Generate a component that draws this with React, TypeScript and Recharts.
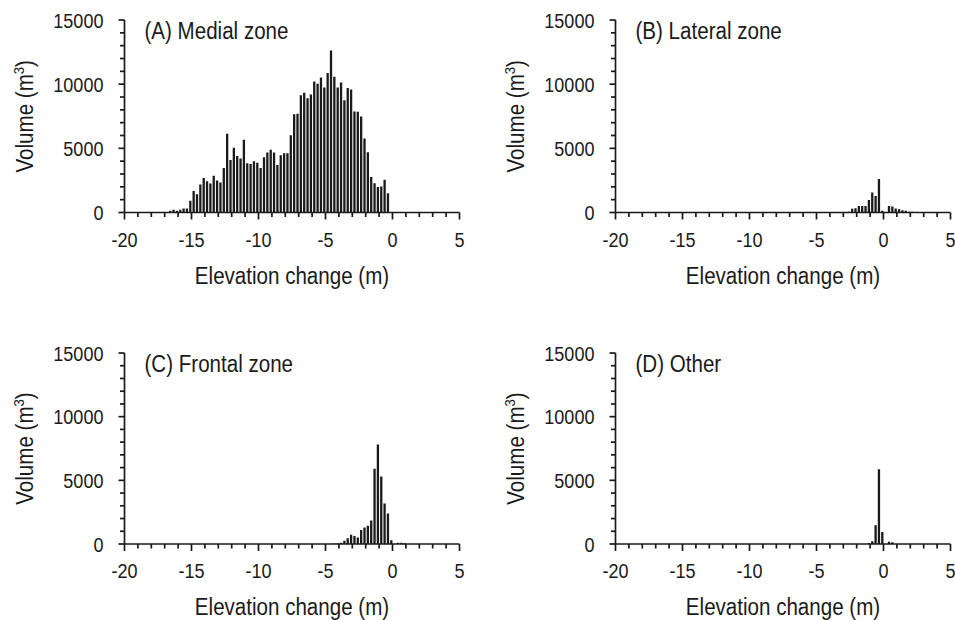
import React from 'react';
import { BarChart, Bar, XAxis, YAxis, Label } from 'recharts';

// ---- data (bin width 0.25 m, values at bin centres) ----
const BIN = 0.25;
const xTicks = [-20, -19, -18, -17, -16, -15, -14, -13, -12, -11, -10, -9, -8, -7, -6, -5, -4, -3, -2, -1, 0, 1, 2, 3, 4, 5];
const yTicks = [0, 1000, 2000, 3000, 4000, 5000, 6000, 7000, 8000, 9000, 10000, 11000, 12000, 13000, 14000, 15000];

const medialStart = -16.625;
const medialVolume = [
  130, 210, 130, 210, 315, 315, 920, 1680, 1420, 2180, 2680, 2440, 2260, 2860, 2490, 2340,
  3460, 6140, 4090, 5040, 4410, 4200, 5670, 3830, 3780, 3990, 3880, 3460, 4300, 4670, 4880, 4670,
  3700, 4460, 4620, 4620, 6010, 7660, 7690, 9130, 9340, 8900, 9190, 10210, 10030, 10520, 9740,
  10870, 12620, 10580, 9740, 10130, 8740, 9710, 9580, 7870, 7850, 7480, 5770, 4700, 2760, 2280,
  1990, 2020, 2550, 1500,
];

const lateralStart = -2.625;
const lateralVolume = [50, 290, 340, 500, 500, 500, 970, 1550, 1290, 2620, 130, 0, 500, 470, 310, 260, 180, 130, 50, 50];

const frontalStart = -4.375;
const frontalVolume = [30, 60, 100, 260, 450, 730, 630, 520, 1100, 1290, 1440, 1840, 5910, 7820, 5300, 3180, 2390, 290, 0, 100, 100, 50];

const otherStart = -1.125;
const otherVolume = [80, 210, 1470, 5880, 940, 0, 180, 130];

const panelTitles = ['(A) Medial zone', '(B) Lateral zone', '(C) Frontal zone', '(D) Other'];
const xTitle = 'Elevation change (m)';

function toRows(start: number, values: number[]) {
  return values.map((v, i) => ({ x: start + i * BIN, v }));
}

// ---- style ----
const FONT = "'Liberation Sans', Arial, Helvetica, sans-serif";
const INK = '#1a1a1a';
const TICK_FS = 21;
const TICK_SX = 0.86;
const TITLE_FS = 23.5;
const TITLE_SX = 0.875;

const SText = (props: any) => {
  const { x, y, sx, fs, anchor, rotate, children } = props;
  return (
    <text
      transform={`translate(${x},${y})${rotate ? ' rotate(-90)' : ''} scale(${sx},1)`}
      x={0}
      y={0}
      textAnchor={anchor}
      fontSize={fs}
      fontFamily={FONT}
      fill={INK}
    >
      {children}
    </text>
  );
};

const XTick = (props: any) => {
  const { x, y, payload } = props;
  const v = payload.value;
  const major = v % 5 === 0;
  return (
    <g>
      <line x1={x} x2={x} y1={y} y2={y + (major ? 7 : 4.5)} stroke={INK} strokeWidth={1.7} />
      {major && (
        <SText x={x} y={y + 34} sx={TICK_SX} fs={TICK_FS} anchor="middle">
          {v}
        </SText>
      )}
    </g>
  );
};

const YTick = (props: any) => {
  const { x, y, payload } = props;
  const v = payload.value;
  const major = v % 5000 === 0;
  return (
    <g>
      <line x1={x} x2={x - (major ? 6 : 4.5)} y1={y} y2={y} stroke={INK} strokeWidth={1.7} />
      {major && (
        <SText x={x - 21} y={y + 7.5} sx={TICK_SX} fs={TICK_FS} anchor="end">
          {v}
        </SText>
      )}
    </g>
  );
};

type PanelProps = {
  title: string;
  data: { x: number; v: number }[];
  chartLeft: number;
  chartTop: number;
  chartWidth: number;
  chartHeight: number;
  plotLeft: number;
  plotRight: number;
  plotTop: number;
  plotBottom: number;
};

const Y_AXIS_W = 60;
const X_AXIS_H = 70;

function Panel(p: PanelProps) {
  const margin = {
    top: p.plotTop - p.chartTop,
    left: p.plotLeft - p.chartLeft - Y_AXIS_W,
    right: p.chartLeft + p.chartWidth - p.plotRight,
    bottom: p.chartTop + p.chartHeight - p.plotBottom - X_AXIS_H,
  };

  const xTitleContent = (lp: any) => {
    const vb = lp.viewBox || {};
    return (
      <SText x={vb.x + vb.width / 2} y={vb.y + 71} sx={TITLE_SX} fs={TITLE_FS} anchor="middle">
        {xTitle}
      </SText>
    );
  };

  const yTitleContent = (lp: any) => {
    const vb = lp.viewBox || {};
    const axisX = vb.x + vb.width;
    return (
      <SText x={axisX - 92} y={vb.y + vb.height / 2} sx={TITLE_SX} fs={TITLE_FS} anchor="middle" rotate>
        Volume (m
        <tspan fontSize={15} dy={-9}>3</tspan>
        <tspan dy={9}>)</tspan>
      </SText>
    );
  };

  const panelTitleContent = (lp: any) => {
    const vb = lp.viewBox || {};
    const axisX = vb.x + vb.width;
    return (
      <SText x={axisX + 20} y={vb.y + 18.5} sx={TITLE_SX} fs={TITLE_FS} anchor="start">
        {p.title}
      </SText>
    );
  };

  return (
    <div style={{ position: 'absolute', left: p.chartLeft, top: p.chartTop }}>
      <BarChart width={p.chartWidth} height={p.chartHeight} data={p.data} margin={margin}>
        <XAxis
          type="number"
          dataKey="x"
          domain={[-20, 5]}
          ticks={xTicks}
          interval={0}
          allowDataOverflow
          tickSize={0}
          tickMargin={0}
          tickLine={false}
          tick={<XTick />}
          height={X_AXIS_H}
          axisLine={{ stroke: INK, strokeWidth: 1.7 }}
        >
          <Label content={xTitleContent} />
        </XAxis>
        <YAxis
          type="number"
          domain={[0, 15000]}
          ticks={yTicks}
          interval={0}
          allowDataOverflow
          tickSize={0}
          tickMargin={0}
          tickLine={false}
          tick={<YTick />}
          width={Y_AXIS_W}
          axisLine={{ stroke: INK, strokeWidth: 1.7 }}
        >
          <Label content={yTitleContent} />
          <Label content={panelTitleContent} />
        </YAxis>
        <Bar dataKey="v" fill={INK} barSize={2.3} isAnimationActive={false} />
      </BarChart>
    </div>
  );
}

export default function App() {
  return (
    <div style={{ position: 'absolute', left: 0, top: 0, width: 955, height: 620, background: '#fff' }}>
      <Panel
        title={panelTitles[0]}
        data={toRows(medialStart, medialVolume)}
        chartLeft={0}
        chartTop={0}
        chartWidth={470}
        chartHeight={300}
        plotLeft={124.5}
        plotRight={459.5}
        plotTop={20}
        plotBottom={212.5}
      />
      <Panel
        title={panelTitles[1]}
        data={toRows(lateralStart, lateralVolume)}
        chartLeft={495}
        chartTop={0}
        chartWidth={460}
        chartHeight={300}
        plotLeft={615.5}
        plotRight={950.5}
        plotTop={20}
        plotBottom={212.5}
      />
      <Panel
        title={panelTitles[2]}
        data={toRows(frontalStart, frontalVolume)}
        chartLeft={0}
        chartTop={320}
        chartWidth={470}
        chartHeight={300}
        plotLeft={124.5}
        plotRight={459.5}
        plotTop={353}
        plotBottom={544}
      />
      <Panel
        title={panelTitles[3]}
        data={toRows(otherStart, otherVolume)}
        chartLeft={495}
        chartTop={320}
        chartWidth={460}
        chartHeight={300}
        plotLeft={615.5}
        plotRight={950.5}
        plotTop={353}
        plotBottom={544}
      />
    </div>
  );
}
